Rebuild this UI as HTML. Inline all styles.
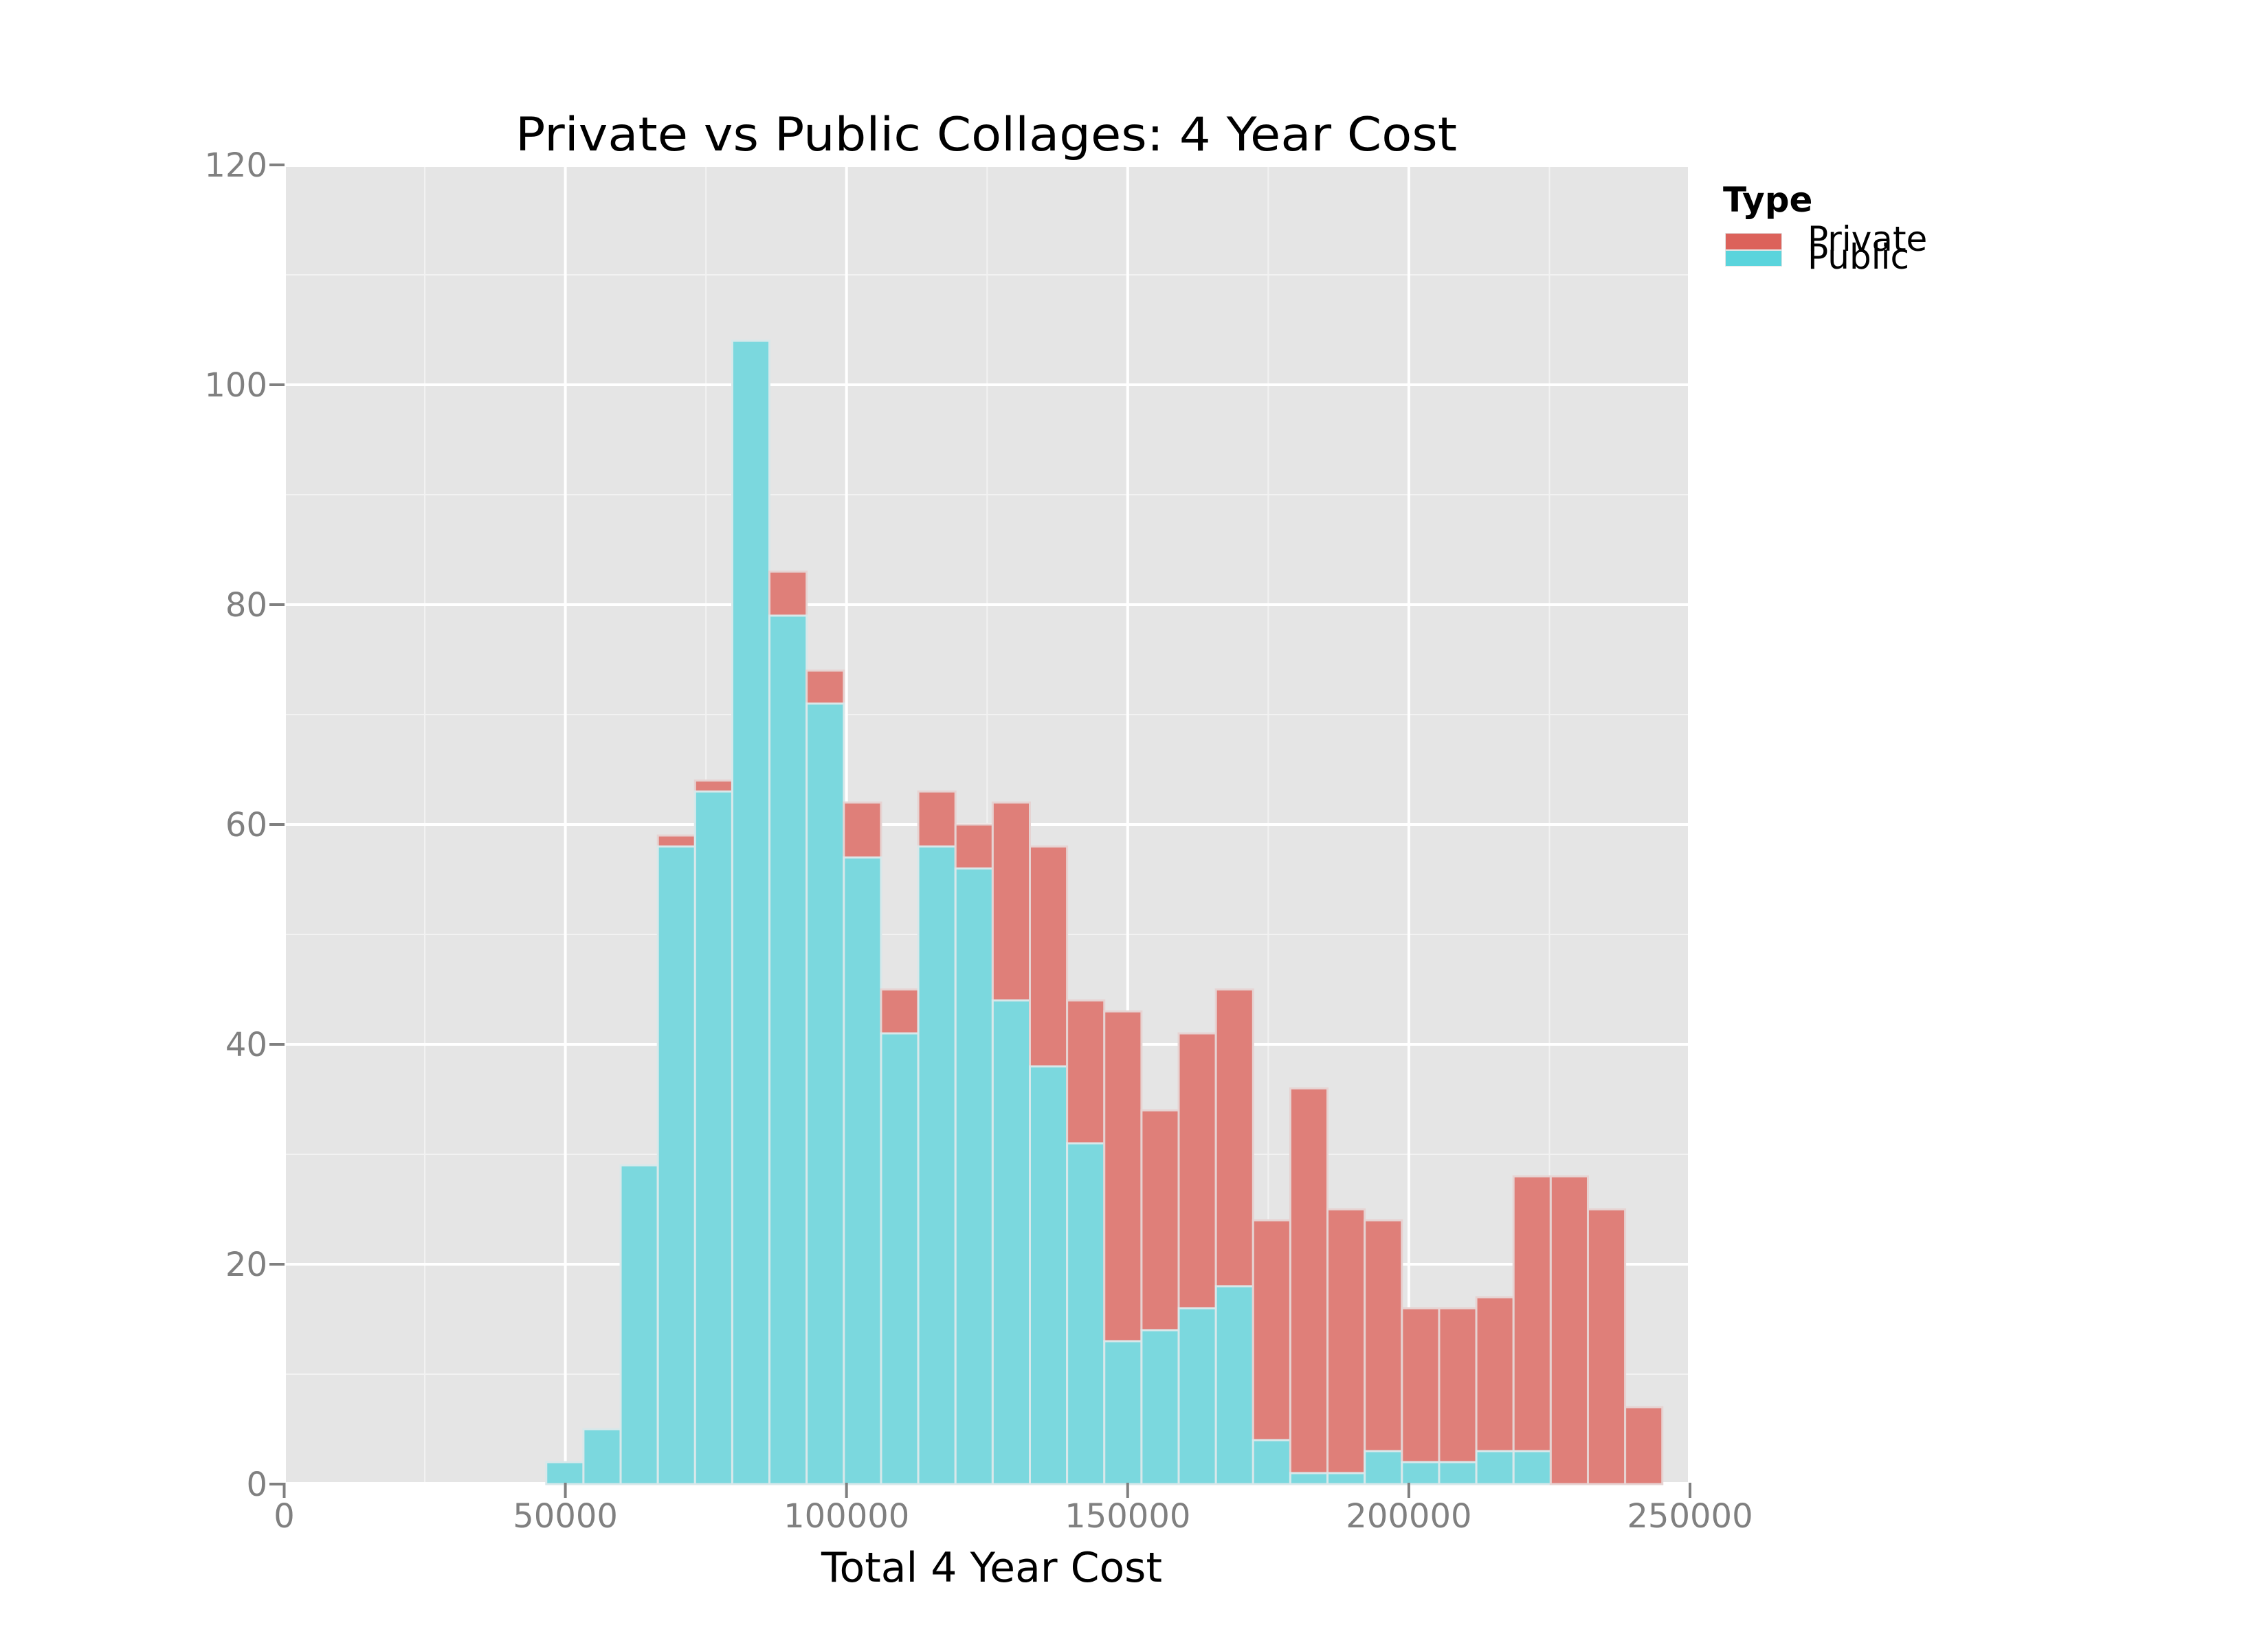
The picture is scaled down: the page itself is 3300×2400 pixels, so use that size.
<!DOCTYPE html>
<html><head><meta charset="utf-8"><style>html,body{margin:0;padding:0;background:#fff}svg{display:block}</style></head>
<body>
<svg id="chart" xmlns="http://www.w3.org/2000/svg" width="3300" height="2400" viewBox="0 0 3300 2400" font-family="'DejaVu Sans','Liberation Sans',sans-serif">
<rect width="3300" height="2400" fill="#ffffff"/>
<rect x="416" y="243" width="2040" height="1914" fill="#E5E5E5"/>
<g id="grid"></g>
<g id="bars"></g>
<g id="axes"></g>
<text x="1435" y="219" font-size="68" text-anchor="middle" textLength="1370" lengthAdjust="spacingAndGlyphs" fill="#000">Private vs Public Collages: 4 Year Cost</text>
<text x="1443" y="2302" font-size="60" text-anchor="middle" fill="#000">Total 4 Year Cost</text>
<g>
<text x="2507" y="308" font-size="50" font-weight="bold" fill="#000">Type</text>
<rect x="2510" y="339" width="83" height="49" fill="#E5E5E5"/>
<rect x="2511" y="340" width="81" height="23" fill="#DC625B"/>
<rect x="2511" y="365" width="81" height="22" fill="#5AD4DC"/>
<text x="2630" y="365" font-size="50" fill="#000">Private</text>
<text x="2630" y="391" font-size="50" fill="#000">Public</text>
</g>
</svg>
<script>
const binStart = 46600;
const binWidth = 6616;
const publicCounts = [2,5,29,58,63,104,79,71,57,41,58,56,44,38,31,13,14,16,18,4,1,1,3,2,2,3,3,0,0,0];
const totalCounts = [2,5,29,59,64,104,83,74,62,45,63,60,62,58,44,43,34,41,45,24,36,25,24,16,16,17,28,28,25,7];
const xTicks = [0,50000,100000,150000,200000,250000];
const yTicks = [0,20,40,60,80,100,120];

const NS = 'http://www.w3.org/2000/svg';
const X0 = 413.5, XS = 2045.5/250000;
const Y0 = 2160, YS = 16;
const sx = v => X0 + v * XS;
const sy = v => Y0 - v * YS;
const PL = 416, PR = 2456, PT = 243, PB = 2157;
function mk(tag, attrs, parent) {
  const e = document.createElementNS(NS, tag);
  for (const k in attrs) e.setAttribute(k, attrs[k]);
  parent.appendChild(e);
  return e;
}
const grid = document.getElementById('grid');
const bars = document.getElementById('bars');
const axes = document.getElementById('axes');
for (let v = 10; v < 120; v += 20) {
  const l = mk('line', {x1: PL, x2: PR, y1: sy(v), y2: sy(v), stroke: '#F2F2F2', 'stroke-width': 2}, grid);
  
  
}
for (let v = 25000; v < 250000; v += 50000) {
  const l = mk('line', {x1: sx(v), x2: sx(v), y1: PT, y2: PB, stroke: '#F2F2F2', 'stroke-width': 2}, grid);
  
  
}
yTicks.forEach(v => {
  if (sy(v) < PT || sy(v) > PB) return;
  const l = mk('line', {x1: PL, x2: PR, y1: sy(v), y2: sy(v), stroke: '#FFFFFF', 'stroke-width': 4}, grid);
  
  
});
xTicks.forEach(v => {
  if (sx(v) < PL || sx(v) > PR) return;
  const l = mk('line', {x1: sx(v), x2: sx(v), y1: PT, y2: PB, stroke: '#FFFFFF', 'stroke-width': 4}, grid);
  
  
});
publicCounts.forEach((p, i) => {
  const a = binStart + i * binWidth, b = a + binWidth;
  const x = sx(a), w = sx(b) - sx(a);
  const t = totalCounts[i];
  if (t > p) {
    const r = mk('rect', {x: x, y: sy(t), width: w, height: sy(p) - sy(t), fill: '#DF7F79', stroke: '#E6D3D2', 'stroke-width': 3}, bars);
    
    
  }
  if (p > 0) {
    const r = mk('rect', {x: x, y: sy(p), width: w, height: sy(0) - sy(p), fill: '#7BD8DE', stroke: '#D8E8EA', 'stroke-width': 3}, bars);
    
    
  }
});
yTicks.forEach(v => {
  const l = mk('line', {x1: 392, x2: 414, y1: sy(v), y2: sy(v), stroke: '#808080', 'stroke-width': 4}, axes);
  
  
  const t = mk('text', {x: 389, y: sy(v) + 17, 'font-size': 48, fill: '#808080', 'text-anchor': 'end'}, axes);
  t.textContent = v;
  
  
});
xTicks.forEach(v => {
  const l = mk('line', {x1: sx(v), x2: sx(v), y1: 2158, y2: 2180, stroke: '#808080', 'stroke-width': 4}, axes);
  
  
  const t = mk('text', {x: sx(v), y: 2223, 'font-size': 48, fill: '#808080', 'text-anchor': 'middle'}, axes);
  t.textContent = v;
  
  
});
</script>
</body></html>
